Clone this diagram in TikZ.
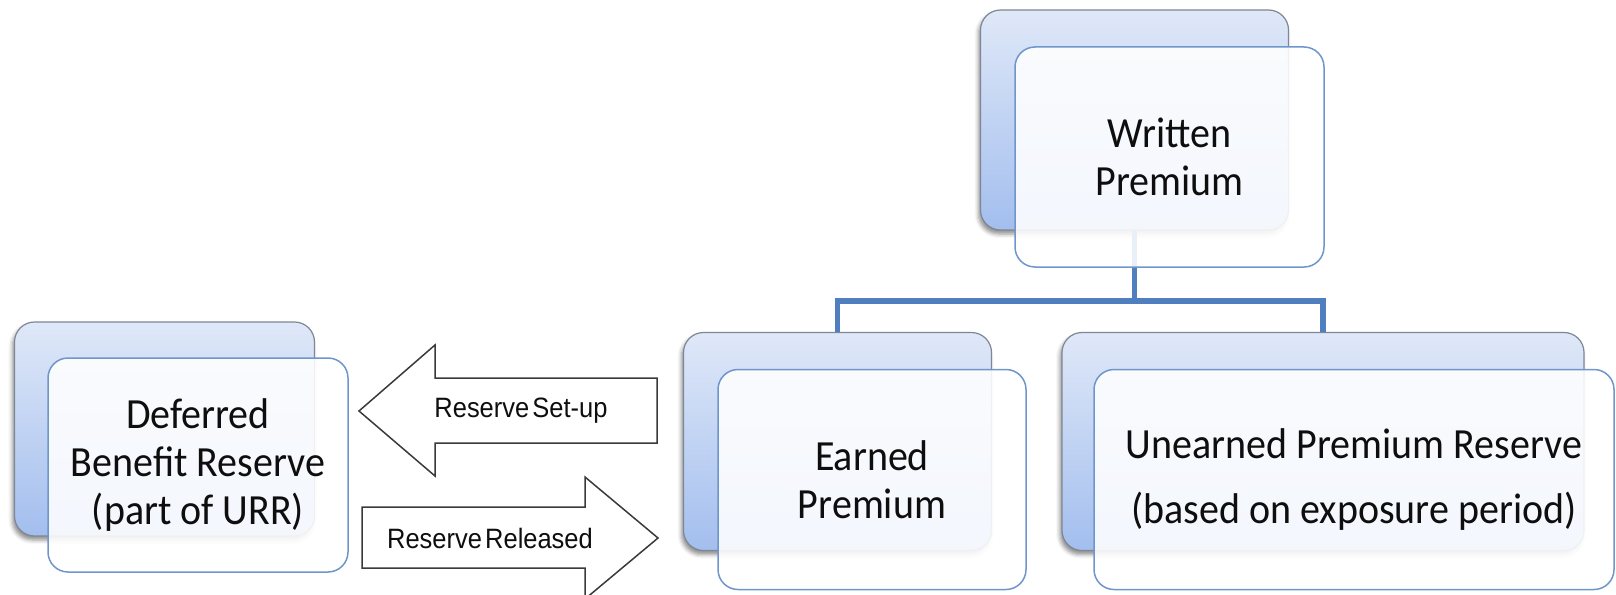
\documentclass[tikz,border=0pt]{standalone}
\usepackage{fontspec}
\setmainfont[FakeStretch=0.93]{Carlito}
\newfontfamily\lblfont[FakeStretch=0.91, WordSpace=0.45]{Liberation Sans}
\usetikzlibrary{shadows.blur}

\definecolor{backtop}{HTML}{DFE8F8}
\definecolor{backbot}{HTML}{A3BEEE}
\definecolor{backline}{HTML}{7F8794}
\definecolor{frontline}{HTML}{6F96CB}
\definecolor{connblue}{HTML}{4F7FBF}
\definecolor{arrowline}{HTML}{3A3A3A}
\definecolor{txt}{HTML}{0E0E0E}

\tikzset{
  backbox/.style={draw=backline, line width=1.2pt, rounded corners=20pt,
    top color=backtop, bottom color=backbot, inner sep=0pt,
    blur shadow={shadow xshift=-2pt, shadow yshift=-4pt, shadow opacity=45, shadow blur radius=4pt}},
  frontbox/.style={draw=frontline, line width=1.5pt, rounded corners=20pt,
    fill=white, fill opacity=0.88, text opacity=1, text=txt, align=center,
    inner sep=0pt, font=\fontsize{43}{48}\selectfont},
  conn/.style={draw=connblue, line width=5.5pt},
  blockarrow/.style={draw=arrowline, line width=1.5pt, fill=white, line join=miter},
  arrowlabel/.style={text=txt, font=\lblfont\fontsize{28}{30}\selectfont, inner sep=0pt},
}

\begin{document}
\begin{tikzpicture}[x=1pt, y=-1pt]
  \useasboundingbox (0,0) rectangle (1616,594);

  % back panels
  \node[backbox, minimum width=308pt, minimum height=220pt] (wb) at (1134.5,120) {};
  \node[backbox, minimum width=300pt, minimum height=214pt] (db) at (164.5,429) {};
  \node[backbox, minimum width=308pt, minimum height=218pt] (eb) at (837.5,441.5) {};
  \node[backbox, minimum width=522pt, minimum height=218pt] (ub) at (1323,441.5) {};

  % hierarchy connector
  \coordinate (split) at (1134.5,301);
  \draw[conn] (wb.south) -- (split) -| (eb.north);
  \draw[conn] (split) -| (ub.north);

  % block arrows between earned premium and the deferred reserve
  \draw[blockarrow] (359,411) -- (435,345) -- (435,378) -- (657,378)
    -- (657,443) -- (435,443) -- (435,476) -- cycle;
  \draw[blockarrow] (362,507) -- (585,507) -- (585,477) -- (658,538)
    -- (585,599) -- (585,568) -- (362,568) -- cycle;
  \node[arrowlabel] (lsetup) at (521,411) {Reserve Set-up};
  \node[arrowlabel] (lrel) at (490,538) {Reserve Released};

  % front panels with text
  \node[frontbox, minimum width=309pt, minimum height=220pt] (wf) at (1169.5,157) {Written\\Premium};
  \node[frontbox, minimum width=300pt, minimum height=214pt] (df) at (198,465) {Deferred\\Benefit Reserve\\(part of URR)};
  \node[frontbox, minimum width=308pt, minimum height=220pt] (ef) at (872,479.5) {Earned\\Premium};
  \node[frontbox, minimum width=520pt, minimum height=220pt, font=\fontsize{43}{65}\selectfont] (uf) at (1354,479.5) {Unearned Premium Reserve\\(based on exposure period)};
\end{tikzpicture}
\end{document}
